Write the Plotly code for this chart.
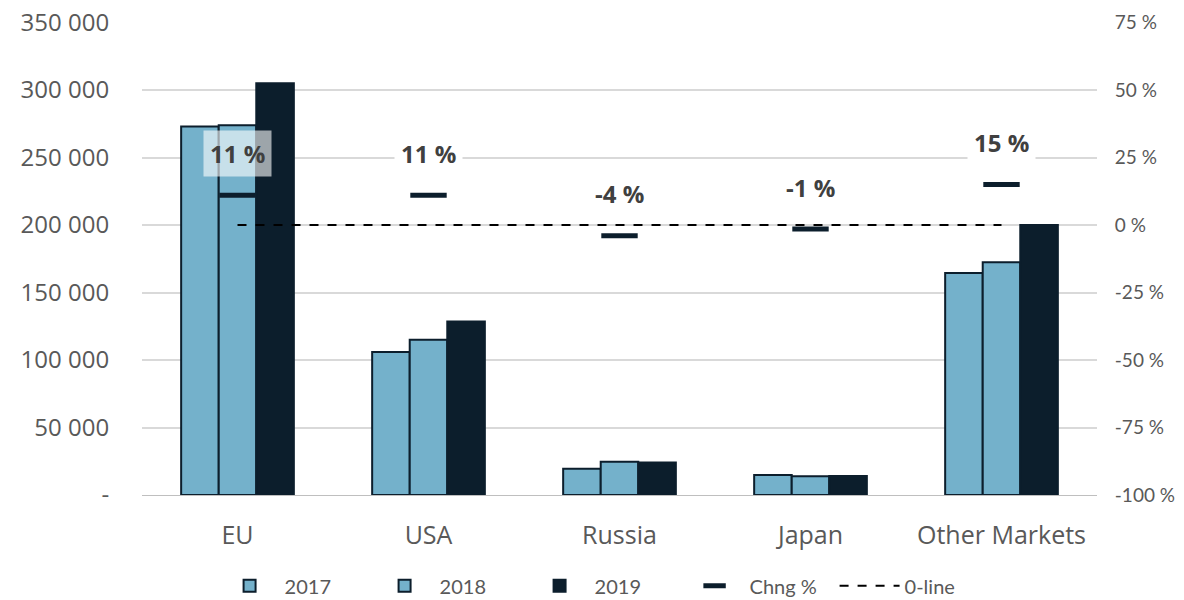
import plotly.graph_objects as go

categories = ["EU", "USA", "Russia", "Japan", "Other Markets"]
v2017 = [273000, 106000, 19500, 14800, 164500]
v2018 = [274000, 115000, 24700, 13800, 172500]
v2019 = [305000, 128500, 24000, 14000, 200000]
chng = [11, 11, -4, -1.5, 15]
chng_labels = ["11 %", "11 %", "-4 %", "-1 %", "15 %"]
zero_line = [0, 0, 0, 0, 0]

left_ticks = [0, 50000, 100000, 150000, 200000, 250000, 300000, 350000]
left_labels = ["-", "50 000", "100 000", "150 000", "200 000", "250 000", "300 000", "350 000"]
right_ticks = [-100, -75, -50, -25, 0, 25, 50, 75]
right_labels = ["-100 %", "-75 %", "-50 %", "-25 %", "0 %", "25 %", "50 %", "75 %"]

LIGHT = "#74B1CB"
DARK = "#0C1E2C"
GRAY = "#595959"
FONT = "Open Sans"
FONT2 = "Lato"

fig = go.Figure()
for i, (name, vals, col) in enumerate([("2017", v2017, LIGHT), ("2018", v2018, LIGHT), ("2019", v2019, DARK)]):
    fig.add_trace(go.Bar(x=categories, y=vals, name=name, marker=dict(color=col, line=dict(color=DARK, width=2)),
                         yaxis="y", legendrank=i + 1))

fig.add_trace(go.Scatter(x=categories, y=zero_line, name="0-line", mode="lines", legendrank=5,
                         line=dict(color="black", width=2, dash="dash"), yaxis="y2"))
fig.add_trace(go.Scatter(x=categories, y=chng, name="Chng %", mode="markers", legendrank=4,
                         marker=dict(symbol="line-ew", size=26, line=dict(color=DARK, width=5)),
                         yaxis="y2"))

for c, v, t in zip(categories, chng, chng_labels):
    fig.add_annotation(x=c, y=v, xref="x", yref="y2", text="<b>" + t + "</b>", showarrow=False,
                       yshift=42, font=dict(family=FONT, size=24, color="#404040"),
                       bgcolor="rgba(255,255,255,0.6)" if c == "EU" else "white", borderpad=6)

fig.update_layout(
    width=1176, height=592,
    margin=dict(l=134, r=87, t=14, b=105, autoexpand=False),
    plot_bgcolor="white", paper_bgcolor="white",
    barmode="group", bargap=0.41, bargroupgap=0,
    font=dict(family=FONT, color=GRAY),
    showlegend=True,
    legend=dict(orientation="h", x=0.076, xanchor="left", y=-0.192, yanchor="middle",
                font=dict(family=FONT2, size=20, color=GRAY), traceorder="normal",
                itemwidth=60, entrywidth=80),
    xaxis=dict(tickfont=dict(size=25, color=GRAY), showline=True, linecolor="#BFBFBF", linewidth=1,
               ticks="outside", ticklen=18, tickcolor="rgba(255,255,255,0)", showgrid=False, automargin=False),
    yaxis=dict(range=[0, 350400], tickvals=left_ticks, ticktext=left_labels, ticklabeloverflow="allow",
               tickfont=dict(size=24, color=GRAY), showgrid=True, gridcolor="#D9D9D9", gridwidth=1.5,
               zeroline=False, ticklen=27, tickcolor="rgba(255,255,255,0)", ticks="outside", automargin=False),
    yaxis2=dict(range=[-100, 75.2], tickvals=right_ticks, ticktext=right_labels, overlaying="y", side="right",
                ticklabeloverflow="allow",
                tickfont=dict(family=FONT2, size=19, color=GRAY), showgrid=False, zeroline=False,
                ticks="outside", ticklen=13, tickcolor="rgba(255,255,255,0)", automargin=False),
)

fig.write_html("out.html")
